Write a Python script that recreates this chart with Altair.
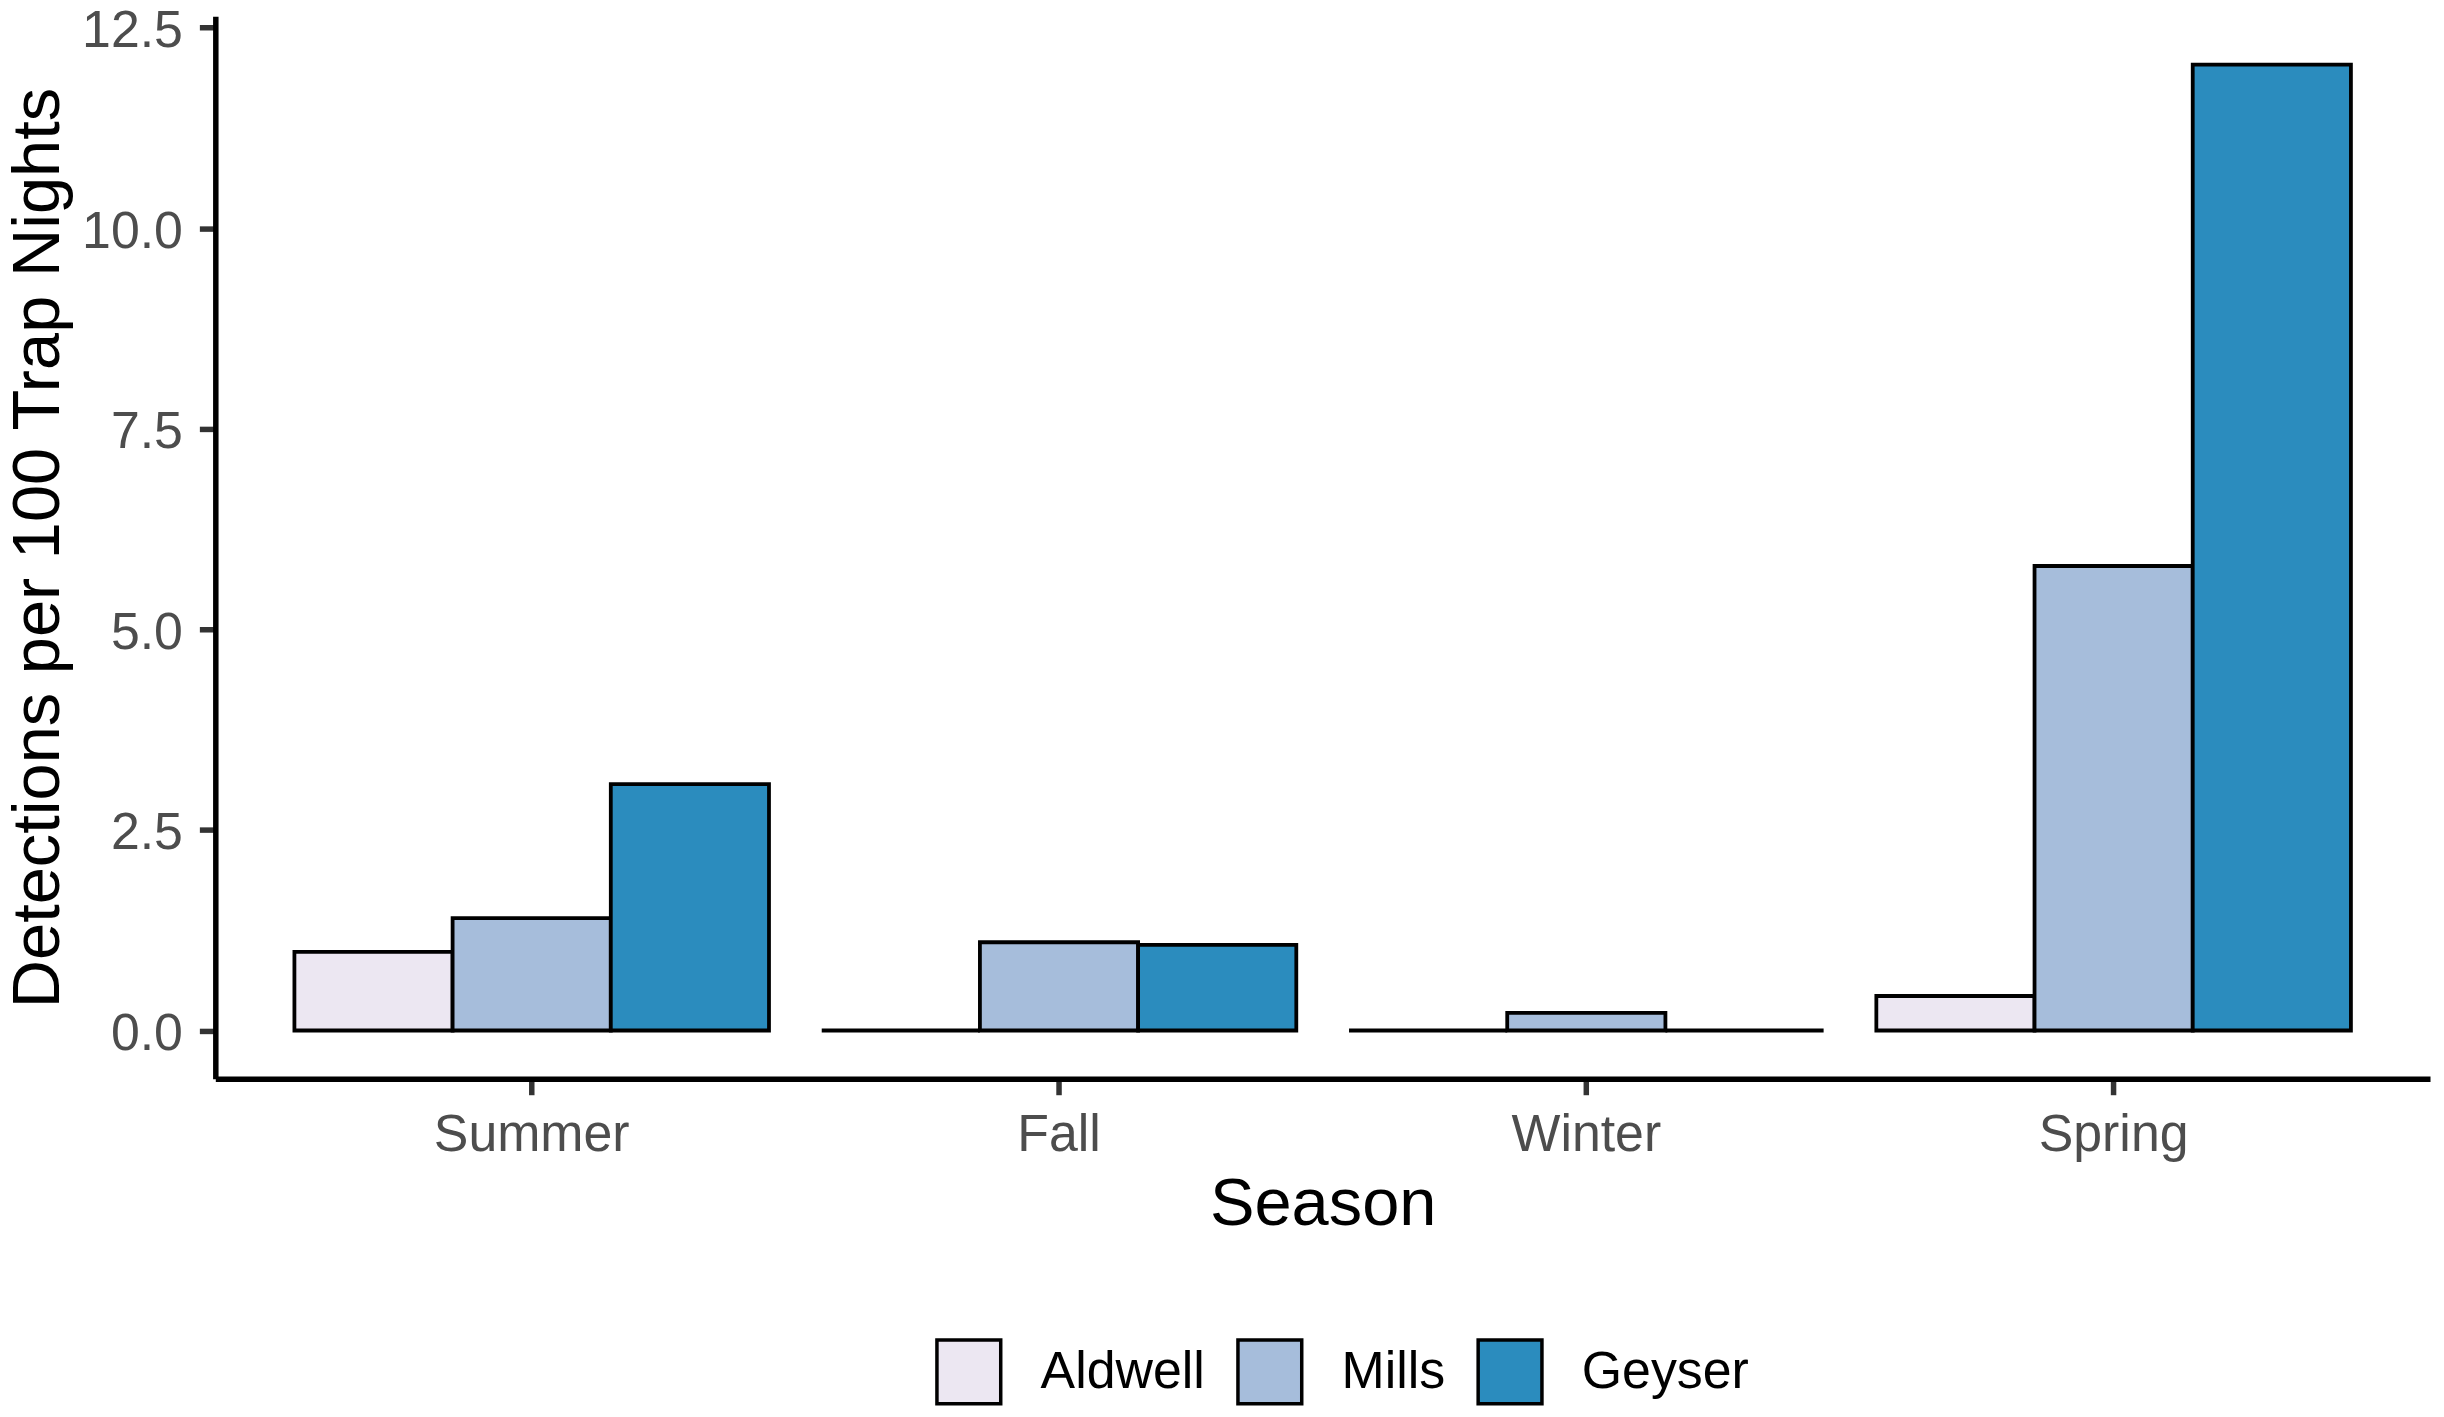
import altair as alt
import pandas as pd

seasons = ["Summer", "Fall", "Winter", "Spring"]
sites = ["Aldwell", "Mills", "Geyser"]
aldwell = [0.98, 0.0, 0.0, 0.43]
mills = [1.40, 1.10, 0.22, 5.79]
geyser = [3.07, 1.066, 0.0, 12.04]
site_colors = ["#ECE7F2", "#A6BDDB", "#2B8CBE"]
y_ticks = [0.0, 2.5, 5.0, 7.5, 10.0, 12.5]

rows = []
for i, s in enumerate(seasons):
    for site, vals in zip(sites, [aldwell, mills, geyser]):
        rows.append({"season": s, "site": site, "value": vals[i]})
df = pd.DataFrame(rows)

ymax = max(geyser)
pad = 0.05 * ymax

FONT = "Liberation Sans"

chart = alt.Chart(df).mark_bar(stroke="black", strokeWidth=3.8).encode(
    x=alt.X("season:N", sort=seasons,
            scale=alt.Scale(paddingInner=0.1, paddingOuter=0.15),
            axis=alt.Axis(title="Season", labelAngle=0, labelFont=FONT, labelFontSize=52,
                          labelColor="#4d4d4d", labelPadding=15, labelLimit=0,
                          tickSize=16, tickWidth=5.5,
                          tickColor="#333333", domainColor="black", domainWidth=5.5,
                          titleFont=FONT, titleFontSize=67, titleFontWeight="normal",
                          titleColor="black", titleBaseline="alphabetic", titleY=146,
                          grid=False)),
    xOffset=alt.XOffset("site:N", sort=sites,
                        scale=alt.Scale(paddingInner=0, paddingOuter=0)),
    y=alt.Y("value:Q",
            scale=alt.Scale(domain=[-pad, ymax + pad], nice=False, zero=False),
            axis=alt.Axis(title="Detections per 100 Trap Nights", values=y_ticks, format=".1f",
                          labelFont=FONT, labelFontSize=52, labelColor="#4d4d4d",
                          labelPadding=17, labelOffset=3, tickSize=16, tickWidth=5.5,
                          tickColor="#333333",
                          domainColor="black", domainWidth=5.5,
                          titleFont=FONT, titleFontSize=67, titleFontWeight="normal",
                          titleColor="black", titleBaseline="alphabetic", titleX=-157,
                          titleLimit=0, grid=False)),
    y2=alt.datum(0),
    fill=alt.Fill("site:N", sort=sites, title=None,
                  scale=alt.Scale(domain=sites, range=site_colors),
                  legend=alt.Legend(orient="none", direction="horizontal",
                                    legendX=722, legendY=1326, padding=0,
                                    symbolType="square", symbolSize=4096,
                                    symbolStrokeColor="black", symbolStrokeWidth=3.5,
                                    symbolOpacity=1, labelFont=FONT, labelFontSize=52,
                                    labelLimit=0, labelColor="black", labelOffset=38,
                                    columnPadding=26)),
).properties(
    width=2222,
    height=1066,
    autosize=alt.AutoSizeParams(type="none"),
    padding={"left": 208, "top": 6, "right": 6, "bottom": 329},
).configure_view(strokeWidth=0)

chart.save("out.html", embed_options={"renderer": "svg", "actions": False})
